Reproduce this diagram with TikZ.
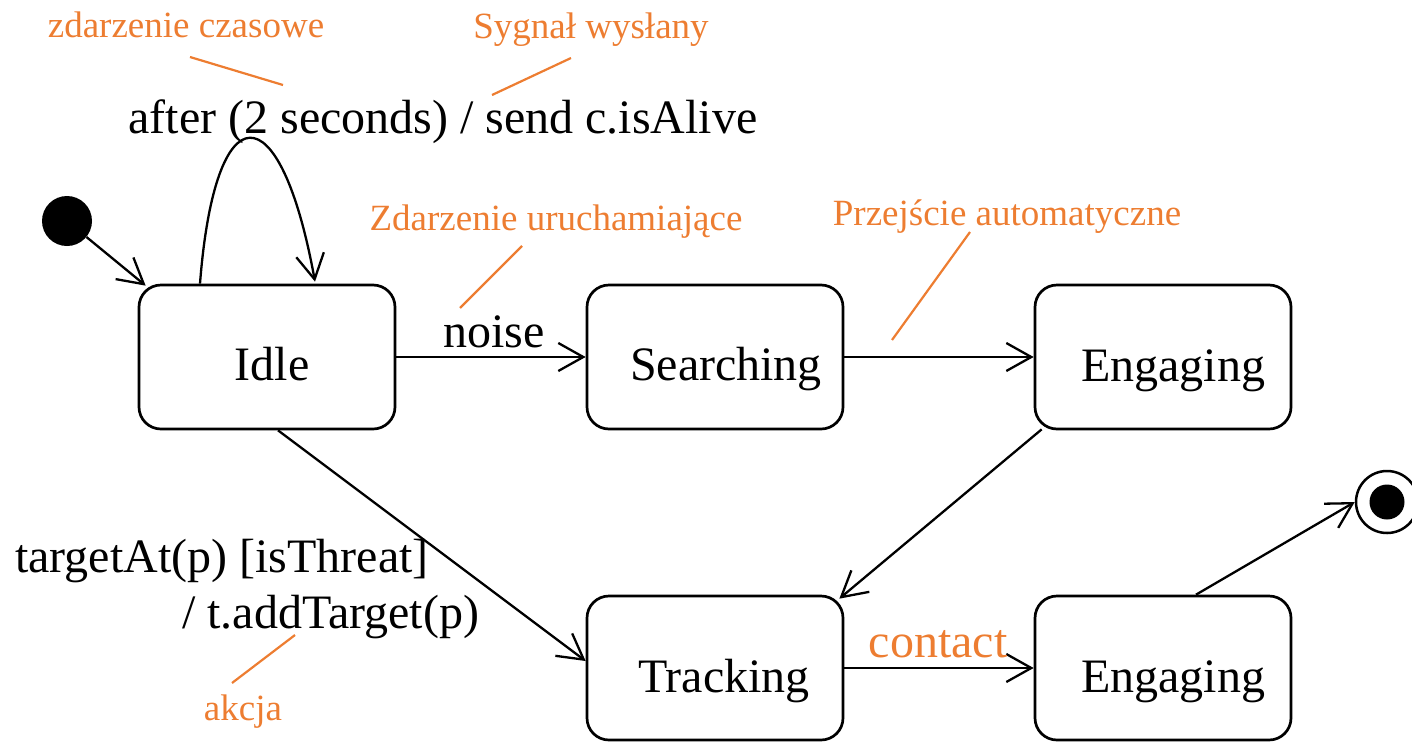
\documentclass[tikz,border=0pt]{standalone}
\usepackage{fontspec}
\setmainfont{Liberation Serif}
\usetikzlibrary{arrows.meta,calc}
\definecolor{anno}{HTML}{ED7D31}
\begin{document}
\begin{tikzpicture}[x=1pt,y=-1pt,
  state/.style={draw, line width=2.7pt, rounded corners=22pt, minimum width=256pt, minimum height=144pt, inner sep=0pt},
  big/.style={font=\fontsize{48}{56}\selectfont, inner sep=0pt},
  small/.style={font=\fontsize{37}{44}\selectfont, text=anno, inner sep=0pt},
  conn/.style={line width=2.3pt, -{Straight Barb[length=25pt,width=28pt,line width=2.3pt]}},
  annoline/.style={draw=anno, line width=2.2pt}]
\useasboundingbox (0,0) rectangle (1412,742);
% states
\node[state] (idle) at (267,357) {};
\node[state] (search) at (715,357) {};
\node[state] (eng1) at (1163,357) {};
\node[state] (track) at (715,668) {};
\node[state] (eng2) at (1163,668) {};
\node[big, anchor=base] (idleT) at (272,380) {Idle};
\node[big, anchor=base] (searchT) at (726,380) {Searching};
\node[big, anchor=base] (eng1T) at (1173,381) {Engaging};
\node[big, anchor=base] (trackT) at (724,692) {Tracking};
\node[big, anchor=base] (eng2T) at (1173,692) {Engaging};
% pseudo states
\node[circle, fill, minimum size=50pt, inner sep=0pt] (init) at (67,221) {};
\node[circle, draw, line width=2.5pt, minimum size=62pt, inner sep=0pt] (fin) at (1387,502) {};
\node[circle, fill, minimum size=35pt, inner sep=0pt] (finIn) at (1387,502) {};
% connectors
\draw[conn] (init) -- ($(idle.north west)+(8,2)$);
\draw[conn] ($(idle.north)+(-67,0)$) .. controls (215,90) and (280,90) .. ($(idle.north)+(48,-2)$);
\draw[conn] (idle.east) -- (search.west);
\draw[conn] (search.east) -- (eng1.west);
\draw[conn] ($(idle.south)+(11,0)$) -- ($(track.west)+(0,-7)$);
\draw[conn] ($(eng1.south west)+(8,-1)$) -- ($(track.north east)+(-5,4)$);
\draw[conn] (track.east) -- (eng2.west);
\draw[conn] ($(eng2.north)+(33,0)$) -- (fin.west);
% transition labels
\node[big, anchor=base] (noise) at (494,347) {noise};
\node[big, anchor=base] (after) at (443,133) {after (2 seconds) / send c.isAlive};
\node[big, anchor=base west] (guard) at (15,572) {targetAt(p) [isThreat]};
\node[big, anchor=base west] (act) at (182,628) {/ t.addTarget(p)};
\node[big, anchor=base, text=anno] (contact) at (938,657) {contact};
% annotations
\node[small, anchor=base] (a1) at (186,37) {zdarzenie czasowe};
\node[small, anchor=base] (a2) at (591,38) {Sygnał wysłany};
\node[small, anchor=base] (a3) at (556,230) {Zdarzenie uruchamiające};
\node[small, anchor=base] (a4) at (1007,225) {Przejście automatyczne};
\node[small, anchor=base] (a5) at (243,720) {akcja};
\coordinate (p1a) at (190,57); \coordinate (p1b) at (283,85);
\coordinate (p2a) at (571,58); \coordinate (p2b) at (492,95);
\coordinate (p3a) at (522,246); \coordinate (p3b) at (460,308);
\coordinate (p4a) at (970,232); \coordinate (p4b) at (892,340);
\coordinate (p5a) at (295,635); \coordinate (p5b) at (232,683);
\draw[annoline] (p1a) -- (p1b);
\draw[annoline] (p2a) -- (p2b);
\draw[annoline] (p3a) -- (p3b);
\draw[annoline] (p4a) -- (p4b);
\draw[annoline] (p5a) -- (p5b);
\end{tikzpicture}
\end{document}
